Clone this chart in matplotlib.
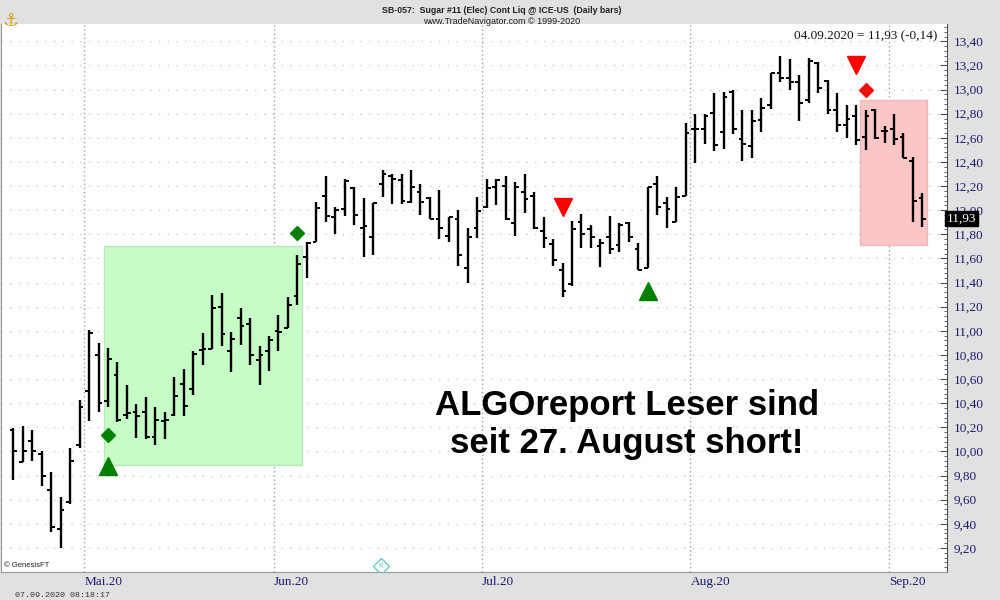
import matplotlib
matplotlib.use("Agg")
import matplotlib.pyplot as plt
import matplotlib.ticker as mticker
from matplotlib.patches import Rectangle
import matplotlib.transforms as mtrans

# ---------------- data (OHLC, daily bars, 21.04.2020 - 04.09.2020) ----------------
opens = [10.18, 9.91, 10.09, 9.98, 9.68, 9.36, 9.58, 10.05,
         10.50, 10.80, 10.42, 10.63, 10.30, 10.33, 10.33, 10.12, 10.25, 10.30,
         10.56, 10.52, 10.84, 10.85, 11.20, 10.83, 11.11, 11.06, 10.76, 10.83,
         11.00, 11.02, 11.29, 11.61, 11.74, 12.12, 11.94, 12.01, 12.18, 11.85,
         11.78, 12.22, 12.28, 12.25, 12.07, 12.15, 12.10, 11.93, 11.79, 11.93,
         11.52, 11.85,
         12.03, 12.19, 12.20, 11.89, 12.15, 12.12, 11.83, 11.72, 11.50, 11.39,
         11.90, 11.84, 11.70, 11.78, 11.71, 11.89, 11.68, 11.52, 12.22, 12.06,
         11.90, 12.12,
         12.67, 12.67, 12.81, 12.65, 12.98, 12.59, 12.53, 12.75, 12.87, 13.14,
         13.10, 13.06, 12.91, 13.22, 13.07, 12.83, 12.71, 12.78, 12.61, 12.83,
         12.66,
         12.67, 12.61, 12.41, 12.10]
highs = [10.19, 10.21, 10.18, 10.00, 9.83, 9.62, 10.03, 10.43,
         11.01, 10.90, 10.86, 10.74, 10.55, 10.39, 10.45, 10.37, 10.33, 10.62,
         10.68, 10.83, 10.98, 11.30, 11.31, 10.99, 11.19, 11.11, 10.87, 10.96,
         11.13, 11.28, 11.63, 11.74, 12.07, 12.28, 12.03, 12.26, 12.19, 12.10,
         12.06, 12.33, 12.30, 12.30, 12.33, 12.22, 12.11, 12.17, 11.94, 12.00,
         11.85, 12.11,
         12.26, 12.26, 12.28, 12.23, 12.30, 12.15, 11.94, 11.76, 11.56, 11.91,
         11.97, 11.88, 11.76, 11.95, 11.89, 11.90, 11.73, 12.19, 12.28, 12.11,
         12.19, 12.72,
         12.80, 12.80, 12.97, 12.98, 13.00, 12.83, 12.83, 12.93, 13.14, 13.28,
         13.25, 13.12, 13.26, 13.23, 13.08, 12.97, 12.87, 12.87, 12.83, 12.84,
         12.70,
         12.80, 12.64, 12.44, 12.14]
lows = [9.76, 9.91, 9.92, 9.71, 9.33, 9.20, 9.56, 10.03,
        10.25, 10.33, 10.37, 10.24, 10.27, 10.11, 10.10, 10.05, 10.10, 10.29,
        10.29, 10.47, 10.72, 10.85, 10.87, 10.66, 10.88, 10.72, 10.55, 10.67,
        10.83, 11.02, 11.21, 11.44, 11.74, 11.90, 11.80, 11.95, 11.88, 11.61,
        11.63, 12.11, 12.05, 12.05, 12.06, 11.96, 11.93, 11.76, 11.74, 11.54,
        11.40, 11.77,
        12.02, 12.04, 11.92, 11.79, 11.98, 11.84, 11.69, 11.54, 11.28, 11.37,
        11.69, 11.69, 11.53, 11.64, 11.65, 11.74, 11.50, 11.52, 11.96, 11.85,
        11.90, 12.12,
        12.39, 12.55, 12.49, 12.51, 12.63, 12.41, 12.43, 12.65, 12.84, 13.06,
        13.00, 12.74, 12.89, 12.97, 12.80, 12.65, 12.60, 12.54, 12.50, 12.59,
        12.56,
        12.54, 12.43, 11.90, 11.86]
closes = [10.00, 10.00, 10.00, 9.80, 9.37, 9.51, 9.92, 10.37,
          10.98, 10.40, 10.77, 10.26, 10.32, 10.29, 10.12, 10.26, 10.26, 10.46,
          10.38, 10.81, 10.85, 11.19, 10.97, 10.93, 11.04, 10.80, 10.80, 10.92,
          10.99, 11.21, 11.55, 11.73, 12.02, 11.95, 12.00, 12.24, 11.96, 11.87,
          12.06, 12.30, 12.26, 12.08, 12.19, 12.07, 11.93, 11.85, 11.94, 11.63,
          11.78, 11.99,
          12.18, 12.25, 11.93, 12.19, 12.09, 11.85, 11.77, 11.59, 11.33, 11.84,
          11.80, 11.78, 11.73, 11.68, 11.88, 11.78, 11.50, 12.19, 12.03, 12.01,
          12.11, 12.64,
          12.67, 12.78, 12.54, 12.94, 12.67, 12.55, 12.74, 12.85, 13.14, 13.10,
          13.06, 12.89, 13.24, 13.01, 12.83, 12.71, 12.76, 12.58, 12.78, 12.60,
          12.66,
          12.59, 12.43, 12.08, 11.93]

month_labels = ["Mai.20", "Jun.20", "Jul.20", "Aug.20", "Sep.20"]
month_start_bar = [8, 28, 50, 72, 93]      # bar index of first trading day

# signals
buy_bars, buy_prices = [10, 67], [9.88, 11.33]
sell_bars, sell_prices = [58, 89], [12.03, 13.20]
long_entry_bars, long_entry_prices = [10, 30], [10.14, 11.81]
short_entry_bars, short_entry_prices = [90], [13.00]
# highlighted trade zones: (bar_from, bar_to, price_low, price_high)
long_zone = (9.55, 30.5, 9.89, 11.70)
short_zone = (89.4, 96.45, 11.71, 12.91)

last_close_text = "11,93"
header_text = "04.09.2020 = 11,93 (-0,14)"
yticks = [9.2, 9.4, 9.6, 9.8, 10.0, 10.2, 10.4, 10.6, 10.8, 11.0, 11.2, 11.4,
          11.6, 11.8, 12.0, 12.2, 12.4, 12.6, 12.8, 13.0, 13.2, 13.4]

# ---------------- figure ----------------
BG = "#e1e1e1"
NAVY = "#1c1c6e"
fig = plt.figure(figsize=(10, 6), dpi=100, facecolor=BG)
ax = fig.add_axes([0.001, 0.0467, 0.946, 0.9133])
ax.set_facecolor("white")

n = len(closes)
idx = list(range(n))
ax.set_xlim(-1.3, 98.6)
ax.set_ylim(9.0, 13.544)

# grid
for v in yticks:
    ax.axhline(v, color="#c4c4c4", lw=0.9, ls=(0, (1, 6)), zorder=0)
for m in month_start_bar:
    ax.axvline(m - 0.5, color="#a0a0a0", lw=1.0, ls=(0, (1, 2)), zorder=0)

# zones
ax.add_patch(Rectangle((long_zone[0], long_zone[2]), long_zone[1] - long_zone[0],
                       long_zone[3] - long_zone[2], facecolor="#c6fcc6",
                       edgecolor="#b8e8b8", lw=1, zorder=1))
ax.add_patch(Rectangle((short_zone[0], short_zone[2]), short_zone[1] - short_zone[0],
                       short_zone[3] - short_zone[2], facecolor="#fcc6c6",
                       edgecolor="#ecb8b8", lw=1, zorder=1))

# OHLC bars
w = 0.4
ax.vlines(idx, lows, highs, color="black", lw=1.7, zorder=3)
ax.hlines(opens, [i - w for i in idx], idx, color="black", lw=1.4, zorder=3)
ax.hlines(closes, idx, [i + w for i in idx], color="black", lw=1.4, zorder=3)

# signals
ax.plot(buy_bars, buy_prices, ls="none", marker="^", ms=13, color="#008000", zorder=4)
ax.plot(sell_bars, sell_prices, ls="none", marker="v", ms=13, color="#ff0000", zorder=4)
ax.plot(long_entry_bars, long_entry_prices, ls="none", marker="D", ms=7.5, color="#008000", zorder=4)
ax.plot(short_entry_bars, short_entry_prices, ls="none", marker="D", ms=7.5, color="#f01010", zorder=4)

# small event marker
ax.plot([38.8], [9.05], ls="none", marker="D", ms=8, mfc="none", mec="#6cc8c8", mew=1.0, zorder=4)
ax.text(38.8, 9.05, "R", fontsize=5, color="#6cc8c8", ha="center", va="center", zorder=4)

# axes styling
ax.spines["top"].set_visible(False)
ax.spines["left"].set_color("#9a9a9a")
ax.spines["bottom"].set_color("#9a9a9a")
ax.spines["right"].set_color("#505050")
ax.yaxis.tick_right()
ax.set_yticks(yticks)
ax.yaxis.set_minor_locator(mticker.MultipleLocator(0.04))
ax.yaxis.set_major_formatter(mticker.FuncFormatter(lambda v, p: f"{v:.2f}".replace(".", ",")))
ax.tick_params(axis="y", which="major", direction="in", length=5, width=0.8,
               color="#505050", labelcolor=NAVY, labelsize=9.5, pad=5)
ax.tick_params(axis="y", which="minor", direction="in", length=2.5, width=0.6, color="#505050")
for lab in ax.get_yticklabels():
    lab.set_fontfamily("Liberation Serif")

ax.set_xticks([m - 0.5 for m in month_start_bar])
ax.set_xticklabels(month_labels, ha="left", family="Liberation Serif", color=NAVY, fontsize=9.5)
ax.tick_params(axis="x", length=0, pad=3)

# last price box (covers the neighbouring axis label, as in the original)
trans = mtrans.blended_transform_factory(ax.transAxes, ax.transData)
ax.text(1.0, closes[-1], last_close_text, transform=trans, ha="left", va="center",
        family="Liberation Serif", fontsize=9.5, color="white", zorder=6, clip_on=False,
        bbox=dict(boxstyle="square,pad=0.12", facecolor="black", edgecolor="black"))

# headline texts
ax.text(0.99, 0.988, header_text, transform=ax.transAxes, ha="right", va="top",
        family="Liberation Serif", fontsize=9.5, color="#111111")
fig.text(0.502, 0.990, "SB-057:  Sugar #11 (Elec) Cont Liq @ ICE-US  (Daily bars)",
         ha="center", va="top", family=["Liberation Sans Narrow", "Liberation Sans"],
         fontsize=6.3, fontweight="bold", color="#222222")
fig.text(0.502, 0.972, "www.TradeNavigator.com \u00a9 1999-2020", ha="center", va="top",
         family=["Liberation Sans Narrow", "Liberation Sans"], fontsize=6.5, color="#222222")
fig.text(0.010, 0.980, "\u2693", ha="center", va="top", fontsize=13, color="#d4a420",
         family="DejaVu Sans")

# big annotation (figure fraction; baselines at y=415 px and y=453 px from top)
fig.text(0.627, 1 - 415 / 600, "ALGOreport Leser sind", ha="center", va="baseline",
         family="Liberation Sans", fontweight="bold", fontsize=25, color="black", zorder=5)
fig.text(0.627, 1 - 453 / 600, "seit 27. August short!", ha="center", va="baseline",
         family="Liberation Sans", fontweight="bold", fontsize=25, color="black", zorder=5)

# footer
ax.text(0.003, 0.006, "\u00a9 GenesisFT", transform=ax.transAxes, ha="left", va="bottom",
        family="Liberation Sans", fontsize=5.5, color="#222222")
fig.text(0.015, 0.008, "07.09.2020 08:18:17", ha="left", va="center",
         family="Liberation Mono", fontsize=6, color="#333333")

fig.savefig("out.png", dpi=100, facecolor=BG)
